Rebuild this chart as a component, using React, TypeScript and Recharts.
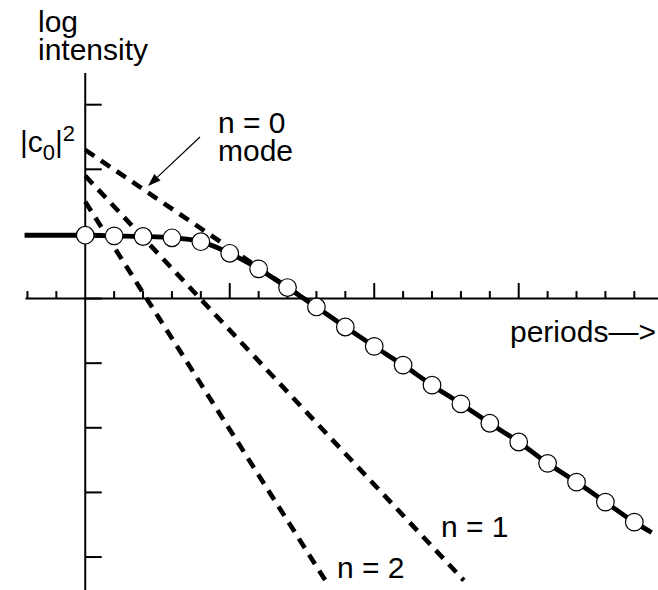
import {
  ComposedChart,
  Line,
  Scatter,
  XAxis,
  YAxis,
  ReferenceLine,
} from "recharts";

// sampled periods and their log intensity
const periods = [0, 1, 2, 3, 4, 5, 6, 7, 8, 9, 10, 11, 12, 13, 14, 15, 16, 17, 18, 19];
const logIntensity = [
  0.98, 0.97, 0.96, 0.94, 0.88, 0.7, 0.46, 0.17, -0.13, -0.44, -0.74, -1.03,
  -1.34, -1.63, -1.93, -2.22, -2.55, -2.84, -3.15, -3.46,
];
// the solid curve starts before period 0 and runs a little past the last sample
const curveStart = { p: -2.1, v: 0.98 };
const curveEnd = { p: 19.6, v: -3.62 };

// single-mode decays (straight lines on a log scale)
const mode0 = [
  { p: 0, v: 2.3 },
  { p: 8, v: -0.13 },
];
const mode1 = [
  { p: 0, v: 1.9 },
  { p: 13.1, v: -4.36 },
];
const mode2 = [
  { p: 0, v: 1.5 },
  { p: 8.35, v: -4.39 },
];

const minorTicks = [-2, -1, 1, 2, 3, 4, 6, 7, 8, 9, 11, 12, 13, 14, 16, 17, 18, 19];
const majorTicks = [5, 10, 15];
const yTicks = [3, 2, 1, 0, -1, -2, -3, -4];

const X_DOMAIN: [number, number] = [-2.95, 19.82];
const Y_DOMAIN: [number, number] = [-4.51, 4.62];
const FONT = "'Liberation Sans', Arial, Helvetica, sans-serif";

const samples = periods.map((p, i) => ({ p, v: logIntensity[i] }));
const curve = [curveStart, ...samples, curveEnd];

const upTick = (len: number) => (props: any) => (
  <line
    x1={props.cx}
    y1={props.cy}
    x2={props.cx}
    y2={props.cy - len}
    stroke="#000"
    strokeWidth={2}
  />
);

const rightTick = (props: any) => (
  <line
    x1={props.cx}
    y1={props.cy}
    x2={props.cx + 16.5}
    y2={props.cy}
    stroke="#000"
    strokeWidth={2}
  />
);

const openCircle = (props: any) => (
  <circle cx={props.cx} cy={props.cy} r={8.8} fill="#fff" stroke="#000" strokeWidth={1.2} />
);

const Arrow = (props: any) => {
  const { x1, y1, x2, y2 } = props;
  const ang = Math.atan2(y2 - y1, x2 - x1);
  const len = 13;
  const half = 4.5;
  const bx = x2 - len * Math.cos(ang);
  const by = y2 - len * Math.sin(ang);
  const nx = -Math.sin(ang) * half;
  const ny = Math.cos(ang) * half;
  return (
    <g>
      <line x1={x1} y1={y1} x2={bx} y2={by} stroke="#000" strokeWidth={1.2} />
      <polygon
        points={`${x2},${y2} ${bx + nx},${by + ny} ${bx - nx},${by - ny}`}
        fill="#000"
      />
    </g>
  );
};

const dashed = {
  type: "linear" as const,
  dataKey: "v",
  stroke: "#000",
  strokeWidth: 4.6,
  strokeDasharray: "11 8",
  dot: false,
  activeDot: false,
  isAnimationActive: false,
};

export default function App() {
  return (
    <div style={{ position: "absolute", left: 0, top: 0, width: 658, height: 590, background: "#fff" }}>
      <ComposedChart width={658} height={590} margin={{ top: 0, right: 0, bottom: 0, left: 0 }}>
        <XAxis dataKey="p" type="number" domain={X_DOMAIN} allowDataOverflow hide />
        <YAxis type="number" domain={Y_DOMAIN} allowDataOverflow hide />

        <ReferenceLine
          segment={[{ x: -2.07, y: 0 }, { x: X_DOMAIN[1], y: 0 }]}
          stroke="#000"
          strokeWidth={2}
        />
        <ReferenceLine
          segment={[{ x: 0, y: 3.49 }, { x: 0, y: Y_DOMAIN[0] }]}
          stroke="#000"
          strokeWidth={2}
        />
        <Scatter
          data={minorTicks.map((p) => ({ p, v: 0 }))}
          dataKey="v"
          shape={upTick(7.5)}
          isAnimationActive={false}
        />
        <Scatter
          data={majorTicks.map((p) => ({ p, v: 0 }))}
          dataKey="v"
          shape={upTick(15.5)}
          isAnimationActive={false}
        />
        <Scatter
          data={yTicks.map((v) => ({ p: 0, v }))}
          dataKey="v"
          shape={rightTick}
          isAnimationActive={false}
        />

        <Line data={mode2} {...dashed} />
        <Line data={mode1} {...dashed} />
        <Line data={mode0} {...dashed} />

        <Line
          data={curve}
          type="monotone"
          dataKey="v"
          stroke="#000"
          strokeWidth={4.8}
          dot={false}
          activeDot={false}
          isAnimationActive={false}
        />
        <Scatter data={samples} dataKey="v" shape={openCircle} isAnimationActive={false} />

        <ReferenceLine
          segment={[{ x: 3.97, y: 2.5 }, { x: 2.17, y: 1.74 }]}
          shape={Arrow}
        />
      </ComposedChart>

      <svg
        width={658}
        height={590}
        style={{ position: "absolute", left: 0, top: 0, pointerEvents: "none" }}
        fontFamily={FONT}
        fontSize={30}
        fill="#000"
      >
        <text x={38} y={32}>log</text>
        <text x={38} y={60}>intensity</text>
        <text x={20} y={152}>
          |c
          <tspan fontSize={22} dy={8}>0</tspan>
          <tspan dy={-8}>|</tspan>
          <tspan fontSize={22} dy={-11}>2</tspan>
        </text>
        <text x={218} y={133}>n = 0</text>
        <text x={218} y={161}>mode</text>
        <text x={510} y={342}>periods—&gt;</text>
        <text x={441} y={537}>n = 1</text>
        <text x={337} y={578}>n = 2</text>
      </svg>
    </div>
  );
}
